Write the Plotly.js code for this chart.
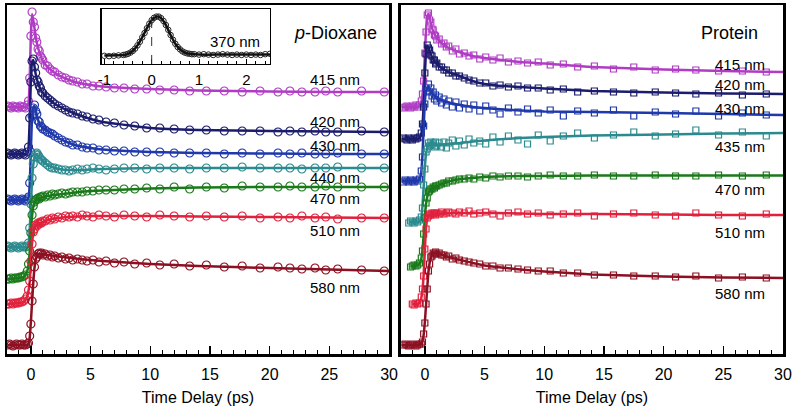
<!DOCTYPE html>
<html>
<head>
<meta charset="utf-8">
<script src="https://cdn.plot.ly/plotly-3.0.1.min.js"></script>
<style>html,body{margin:0;padding:0;background:#fff;}#chart{width:800px;height:416px;}</style>
</head>
<body>
<div id="chart"></div>
<script>
// ---------- DATA (arbitrary offset fluorescence units vs time delay in ps) ----------
const leftLabels = ['415 nm','420 nm','430 nm','440 nm','470 nm','510 nm','580 nm'];
const rightLabels = ['415 nm','420 nm','430 nm','435 nm','470 nm','510 nm','580 nm'];
const seriesColors = ['#b03cc4','#1c1c6c','#1f38aa','#2a8a8e','#1a7a1a','#e0203c','#8c1022'];

const leftTime = [-1.95,-1.8,-1.65,-1.5,-1.35,-1.2,-1.05,-0.9,-0.75,-0.6,-0.45,-0.3,-0.2,-0.1,
  0,0.1,0.2,0.3,0.4,0.5,0.6,0.7,0.8,0.9,1.0,
  1.2,1.4,1.6,1.8,2.0,
  2.3,2.6,2.9,3.2,3.5,
  3.9,4.3,4.7,5.2,5.7,6.3,7.0,7.8,8.7,9.7,
  10.8,12,13.3,14.7,16.2,17.7,19.2,20.7,
  21.7,22.7,23.8,24.7,25.7,27.7,29.6];

const rightTime = [-1.8,-1.65,-1.5,-1.35,-1.2,-1.05,-0.9,-0.75,-0.6,-0.45,-0.3,-0.2,-0.1,
  0,0.1,0.2,0.3,0.4,0.5,0.6,0.7,0.8,0.9,1.0,
  1.2,1.4,1.6,1.8,2.0,
  2.3,2.6,2.9,
  3.3,3.7,4.1,4.6,5.1,5.7,6.3,7.0,7.8,8.6,
  9.5,10.5,11.6,12.8,14.2,15.8,17.5,19.3,
  21.0,22.7,24.6,26.6,28.6];

const fitTime = [-1.95,-1.35,-1.2,-1.05,-0.6,-0.4,-0.3,-0.2,-0.1,0,0.1,0.2,0.3,0.4,0.5,0.6,0.8,1.0,1.4,2,3,4,5,6,8,10,14,20,25,30];

// p-Dioxane measured points
const dioxane415 = [248,247,246,248,247,247,246,248,247,247,246,249,253,276, 318,342,332,327,316,312,305,303,298,296,294, 289,288,285,283,282, 279,277,276,274,273, 272,270,270,268,268,267,266,266,265,265, 264,264,263,263,263,262,263,262, 263,262,262,263,262,263,262];
const dioxane420 = [201,200,199,200,201,200,199,200,201,200,199,202,207,236, 272,293,295,287,281,274,272,268,266,262,261, 258,256,254,252,250, 248,246,244,242,241, 240,238,237,235,234,232,231,229,228,226, 226,225,224,224,223,223,223,222, 223,222,223,222,222,223,222];
const dioxane430 = [155,154,153,154,155,154,153,154,155,154,153,155,157,171, 202,238,246,249,243,240,233,232,228,227,225, 224,222,221,220,218, 216,214,212,211,209, 209,207,206,206,204,204,203,203,202,202, 202,201,201,201,200,201,200,201, 200,201,200,200,201,200,200];
const dioxane440 = [108,107,106,107,108,107,106,107,108,107,107,108,111,126, 150,176,190,197,200,201,199,197,195,194,193, 191,189,187,186,186, 185,184,184,183,184, 185,184,185,186,185,184,185,186,186,185, 186,186,185,186,186,187,186,186, 186,185,186,186,187,186,186];
const dioxane470 = [75,75,76,75,76,76,76,77,77,78,79,83,90,103, 121,139,148,152,154,155,156,155,157,157,158, 157,159,158,160,159, 160,161,160,161,162, 162,162,163,163,164,164,164,165,165,166, 165,167,165,167,166,168,167,167, 168,167,167,168,167,167,167];
const dioxane510 = [50,50,51,50,51,51,51,52,52,53,55,58,64,73, 93,110,122,125,129,128,131,130,132,131,133, 133,135,134,136,135, 137,136,138,137,138, 137,139,138,137,139,138,137,139,138,137, 139,138,137,138,137,138,136,137, 136,138,136,137,135,136,136];
const dioxane580 = [9,10,9,8,9,10,9,9,10,9,9,10,11,18, 30,53,70,87,95,97,100,101,100,101,99, 100,98,99,97,98, 96,97,95,96,94, 95,94,93,94,92,93,91,92,90,91, 89,90,88,89,87,88,86,87, 86,85,86,84,85,84,83];

// p-Dioxane fitted curves
const dioxaneFit415 = [247,247,247,247, 247,247,248,251,274,319,340,334,326,318,311,306,299,293,287,281,275,271,269,267.5,266,265,263.5,262.5,262,262];
const dioxaneFit420 = [200,200,200,200, 200,200,201,206,234,274,292,294,288,280,275,271,265,261,256,250,244,239,235,232,229,226,224,223,222.5,222];
const dioxaneFit430 = [154,154,154,154, 154,154,154,156,169,204,236,247,248,244,239,234,229,226,223,218,212,208,206,204.5,203,202,201,200.5,200,200];
const dioxaneFit440 = [107,107,107,107, 107,107,107,110,124,149,174,189,196,199,200,198,196,193,189,186,184,184,184.5,185,185.5,186,186,186,186,186];
const dioxaneFit470 = [75,75.5,76,76, 77,80,83,89,102,122,138,147,151,153,154,155,156,157,158,159,160.5,162,163,163.5,164.5,165.5,166.5,167,167,167];
const dioxaneFit510 = [50,50.5,51,51, 52,55,58,63,72,92,111,121,126,128,129,130,131,132,134,135.5,137,137.5,138,138,138,138,137.5,137,136.5,136];
const dioxaneFit580 = [9,9,9,9, 9,9,9,10,16,32,52,71,86,94,98,99,100,100,99,98,96.5,95,94,93,91.5,90,88,86,84.5,83];

// Protein measured points
const protein415 = [246,247,248,247,246,248,247,249,247,249,253,260,273, 301,322,339,341,334,332,325,324,319,318,314, 315,310,311,307,308, 303,305,300, 301,298,299,295,297,294,296,292,293,291, 292,289,290,287,288,285,287,284, 285,284,283,283,282];
const protein420 = [216,215,214,216,215,214,216,215,216,217,221,230,247, 281,300,309,306,304,299,298,294,294,290,291, 287,287,284,284,281, 281,278,278, 276,274,273,271,271,268,269,267,268,266, 266,264,265,262,263,262,261,262, 261,260,261,259,260];
const protein430 = [172,174,173,172,174,173,172,174,173,175,183,197,228, 250,266,263,270,262,266,258,262,255,259,253, 257,251,255,249,253, 247,252,246, 250,245,249,243,248,244,240,246,242,245, 241,244,238,243,241,244,238,242, 240,243,238,241,239];
const protein435 = [null,null,null,131,133,132,131,133,132,134,137,146,169, 185,202,205,211,208,212,209,211,207,212,208, 211,207,212,206,211, 214,208,213, 209,215,211,213,210,217,212,218,214,210, 219,213,218,221,216,219,222,218, 220,224,219,222,218];
const protein470 = [null,null,null,null,87,88,89,88,89,91,96,103,120, 136,151,156,162,163,165,165,167,166,168,168, 169,170,171,171,173, 173,174,175, 175,176,175,177,176,178,177,178,178,177, 178,179,178,178,179,178,178,179, 178,178,179,178,179];
const protein510 = [null,null,null,null,null,50,49,51,50,51,57,65,78, 105,125,136,138,140,139,141,140,141,139,141, 140,142,140,141,142, 141,140,142, 141,143,140,141,142,140,138,141,142,140, 141,139,140,141,138,140,141,139, 138,141,139,138,140];
const protein580 = [9,10,9,8,9,10,9,8,9,10,10,12,20, 31,50,65,83,90,97,98,101,100,102,100, 101,99,99,97,98, 95,96,94, 93,92,91,90,88,88,86,86,85,84, 83,83,81,81,79,79,78,78, 77,78,76,77,76];

// Protein fitted curves
const proteinFit415 = [247,247,247,247, 247,249,252,259,274,299,324,338,340,336,331,326,320,316,311,306,301.5,298,296,294.5,292,290.5,287,284.5,283,282];
const proteinFit420 = [215,215,215,215, 215,217,220,229,249,279,302,308,307,303,300,297,293,290,286,282,277.5,273,270,268.5,267,265.5,263,261.5,260.5,260];
const proteinFit430 = [173,173,173,173, 173,176,182,199,226,252,263,266,267,265,263,261,258,256,254,251.5,249,247,246,245,243.5,242.5,242,241,240,239];
const proteinFit435 = [null,132,132,132, 132,133,136,148,167,187,200,206,209,210,210,210,209.5,209,209.5,210,211,212.5,213.5,214.5,216,217,218.5,219.5,220.5,221];
const proteinFit470 = [null,null,88,88, 89,91,95,104,119,137,150,157,161,163,164.5,165.5,167,168,170,172.5,175,176,177,177.5,178,178,178.5,178.5,178.5,178.5];
const proteinFit510 = [null,null,null,50, 50,52,56,64,79,104,126,135,138,139,139.5,140,140,140,140.5,141,141,141,141,141,140.5,140,140,139.5,139,139];
const proteinFit580 = [9,9,9,9, 9,9,10,13,19,32,49,66,82,91,96,99,101,101,99.5,97,94,91,88.5,87,84.5,82.5,79.5,77.5,76.5,76];

// Inset: 370 nm instrument response (normalized)
const insetTime = [-1.0,-0.9,-0.8,-0.7,-0.6,-0.55,-0.5,-0.45,-0.4,-0.35,-0.3,-0.25,-0.2,-0.15,-0.1,-0.05,0,0.05,0.1,0.15,0.2,0.25,0.3,0.35,0.4,0.45,0.5,0.55,0.6,0.65,0.7,0.75,0.8,0.85,0.9,1.0,1.1,1.2,1.3,1.4,1.5,1.6,1.7,1.8,1.9,2.0,2.1,2.2,2.3,2.4,2.5];
const insetSignal = [0.02,0.01,0.02,0.03,0.04, 0.05,0.07,0.10,0.14,0.20,0.28,0.37,0.48,0.59,0.71,0.82,0.91,0.97,1.0,1.0,0.96,0.89,0.79,0.67,0.54,0.42,0.32,0.24,0.18,0.13,0.10,0.08,0.07,0.06,0.06, 0.05,0.06,0.05,0.04,0.05,0.06,0.05,0.04,0.05,0.04,0.05,0.04,0.05,0.04,0.06,0.07];
const insetFitTime = [-1.0,-0.6,-0.5,-0.4,-0.3,-0.2,-0.1,0,0.1,0.15,0.2,0.3,0.4,0.5,0.6,0.7,0.8,1.0,1.5,2.0,2.5];
const insetFit = [0.03,0.04,0.07,0.14,0.28,0.48,0.71,0.91,1.0,1.0,0.96,0.79,0.54,0.32,0.18,0.10,0.07,0.05,0.05,0.05,0.05];

const xTickVals = [0,5,10,15,20,25,30];
const insetTickVals = [-1,0,1,2];
const insetTickText = ['-1','0','1','2'];

// ---------- BUILD ----------
const leftPoints = [dioxane415,dioxane420,dioxane430,dioxane440,dioxane470,dioxane510,dioxane580];
const leftFits = [dioxaneFit415,dioxaneFit420,dioxaneFit430,dioxaneFit440,dioxaneFit470,dioxaneFit510,dioxaneFit580];
const rightPoints = [protein415,protein420,protein430,protein435,protein470,protein510,protein580];
const rightFits = [proteinFit415,proteinFit420,proteinFit430,proteinFit435,proteinFit470,proteinFit510,proteinFit580];

const FONT = 'Arial, "Liberation Sans", Helvetica, sans-serif';
const traces = [];
for (let i = 0; i < 7; i++) {
  traces.push({x: leftTime, y: leftPoints[i], xaxis:'x', yaxis:'y', mode:'markers', hoverinfo:'skip',
    marker:{symbol:'circle-open', size:8, color:seriesColors[i], line:{width:1.2, color:seriesColors[i]}}});
  traces.push({x: fitTime, y: leftFits[i], xaxis:'x', yaxis:'y', mode:'lines', hoverinfo:'skip', connectgaps:false,
    line:{color:seriesColors[i], width:2.5, shape:'spline', smoothing:0.5}});
  traces.push({x: rightTime, y: rightPoints[i], xaxis:'x2', yaxis:'y2', mode:'markers', hoverinfo:'skip',
    marker:{symbol:'square-open', size:6, color:seriesColors[i], line:{width:1.2, color:seriesColors[i]}}});
  traces.push({x: fitTime, y: rightFits[i], xaxis:'x2', yaxis:'y2', mode:'lines', hoverinfo:'skip', connectgaps:false,
    line:{color:seriesColors[i], width:2.5, shape:'spline', smoothing:0.5}});
}
traces.push({x: insetTime, y: insetSignal, xaxis:'x3', yaxis:'y3', mode:'markers', hoverinfo:'skip',
  marker:{symbol:'circle-open', size:5.5, color:'#222', line:{width:1, color:'#222'}}});
traces.push({x: insetFitTime, y: insetFit, xaxis:'x3', yaxis:'y3', mode:'lines', hoverinfo:'skip',
  line:{color:'#111', width:2.5, shape:'spline', smoothing:0.6}});

function mainX(domain, anchor) {
  return {domain: domain, anchor: anchor, range:[-2,30], tickmode:'linear', tick0:0, dtick:5,
    ticks:'inside', ticklen:8, tickwidth:1.3, tickcolor:'#000',
    minor:{dtick:1, ticks:'inside', ticklen:4, tickwidth:1, tickcolor:'#000', showgrid:false},
    showline:true, mirror:true, linewidth:2.5, linecolor:'#000', showgrid:false, zeroline:false,
    tickfont:{family:FONT, size:16, color:'#000'}, ticklabelstandoff:4,
    title:{text:'Time Delay (ps)', font:{family:FONT, size:16, color:'#000'}, standoff:10}};
}
function mainY(anchor) {
  return {domain:[0,1], anchor: anchor, range:[0,349], showticklabels:false, ticks:'',
    showline:true, mirror:true, linewidth:2.5, linecolor:'#000', showgrid:false, zeroline:false};
}

const annotations = [];
const leftLabelY = [275,233,209,177,156,124,67];
const rightLabelY = [290,270,246,208,165,122,61];
for (let i = 0; i < 7; i++) {
  annotations.push({xref:'x', yref:'y', x:25.5, y:leftLabelY[i], text:leftLabels[i], showarrow:false,
    font:{family:FONT, size:15, color:'#000'}, xanchor:'center', yanchor:'middle'});
  annotations.push({xref:'x2', yref:'y2', x:26.4, y:rightLabelY[i], text:rightLabels[i], showarrow:false,
    font:{family:FONT, size:15, color:'#000'}, xanchor:'center', yanchor:'middle'});
}
annotations.push({xref:'x', yref:'y', x:25.5, y:321, text:'<i>p</i>-Dioxane', showarrow:false,
  font:{family:FONT, size:18, color:'#000'}, xanchor:'center', yanchor:'middle'});
annotations.push({xref:'x2', yref:'y2', x:25.5, y:321, text:'Protein', showarrow:false,
  font:{family:FONT, size:18, color:'#000'}, xanchor:'center', yanchor:'middle'});
annotations.push({xref:'x3', yref:'y3', x:1.77, y:0.37, text:'370 nm', showarrow:false,
  font:{family:FONT, size:15, color:'#000'}, xanchor:'center', yanchor:'middle'});

const layout = {
  width:800, height:416,
  margin:{l:7, r:17, t:5, b:62},
  paper_bgcolor:'#fff', plot_bgcolor:'#fff',
  showlegend:false,
  font:{family:FONT, color:'#000'},
  xaxis: mainX([0,0.4923],'y'),
  yaxis: mainY('x'),
  xaxis2: mainX([0.5077,1],'y2'),
  yaxis2: mainY('x2'),
  xaxis3: {domain:[0.1224,0.3389], anchor:'y3', range:[-1.05,2.5], tickmode:'array',
    tickvals: insetTickVals, ticktext: insetTickText,
    ticks:'inside', ticklen:5, tickwidth:1, tickcolor:'#000',
    minor:{dtick:0.2, tick0:0, ticks:'inside', ticklen:3, tickwidth:1, tickcolor:'#000'},
    showline:true, mirror:true, linewidth:1.5, linecolor:'#000', showgrid:false, zeroline:false,
    tickfont:{family:FONT, size:15, color:'#000'}, ticklabelstandoff:2},
  yaxis3: {domain:[0.831,0.9885], anchor:'x3', range:[-0.185,1.19], showticklabels:false, ticks:'',
    showline:true, mirror:true, linewidth:1.5, linecolor:'#000', showgrid:false, zeroline:false},
  shapes:[{type:'line', xref:'x3', yref:'y3 domain', x0:0, x1:0, y0:0, y1:1,
    line:{color:'#333', width:1, dash:'dash'}}],
  annotations: annotations
};

Plotly.newPlot('chart', traces, layout, {staticPlot:true, displayModeBar:false});
</script>
</body>
</html>
